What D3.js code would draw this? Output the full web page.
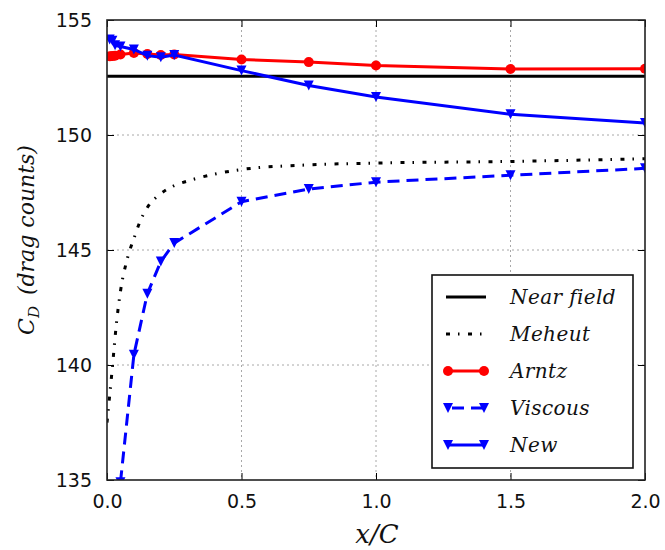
<!DOCTYPE html>
<html><head><meta charset="utf-8">
<script src="https://cdn.jsdelivr.net/npm/d3@7"></script>
<style>body{margin:0;background:#fff}svg{display:block}</style>
</head><body><svg id="c" width="665" height="550"></svg>
<script>
// ---- data ----
const xTicks = [0, 0.5, 1.0, 1.5, 2.0];
const xTickLabels = ["0.0", "0.5", "1.0", "1.5", "2.0"];
const yTicks = [135, 140, 145, 150, 155];
const yTickLabels = ["135", "140", "145", "150", "155"];

const nearFieldValue = 152.55;

const meheutX = [0.0, 0.02, 0.035, 0.05, 0.075, 0.1, 0.125, 0.15, 0.2, 0.25, 0.3, 0.4, 0.5, 0.75, 1.0, 1.5, 2.0];
const meheutY = [137.5, 139.9, 141.8, 143.2, 144.6, 145.5, 146.3, 146.85, 147.45, 147.8, 148.0, 148.3, 148.5, 148.7, 148.78, 148.85, 148.97];

const arntzX = [0.01, 0.02, 0.03, 0.05, 0.1, 0.15, 0.2, 0.25, 0.5, 0.75, 1.0, 1.5, 2.0];
const arntzY = [153.42, 153.43, 153.45, 153.5, 153.57, 153.52, 153.48, 153.5, 153.28, 153.17, 153.02, 152.87, 152.88];

const viscousX = [0.05, 0.1, 0.15, 0.2, 0.25, 0.5, 0.75, 1.0, 1.5, 2.0];
const viscousY = [134.9, 140.45, 143.1, 144.5, 145.3, 147.1, 147.65, 147.95, 148.25, 148.55];

const newX = [0.01, 0.02, 0.03, 0.05, 0.1, 0.15, 0.2, 0.25, 0.5, 0.75, 1.0, 1.5, 2.0];
const newY = [154.15, 154.1, 153.9, 153.85, 153.72, 153.45, 153.38, 153.48, 152.8, 152.15, 151.65, 150.9, 150.52];

const legendLabels = ["Near field", "Meheut", "Arntz", "Viscous", "New"];

// ---- layout ----
const L = 107, R = 645, T = 20, B = 480;
const svg = d3.select("#c");
const x = d3.scaleLinear().domain([0, 2]).range([L, R]);
const y = d3.scaleLinear().domain([135, 155]).range([B, T]);

svg.append("defs").append("clipPath").attr("id", "clip")
  .append("rect").attr("x", L).attr("y", T).attr("width", R - L).attr("height", B - T);

// grid
const grid = svg.append("g");
grid.selectAll("line.gx").data(xTicks.slice(1, -1)).join("line")
  .attr("x1", d => x(d)).attr("x2", d => x(d)).attr("y1", T).attr("y2", B)
  .attr("stroke", "#a8a8a8").attr("stroke-width", 1).attr("stroke-dasharray", "2,3");
grid.selectAll("line.gy").data(yTicks.slice(1, -1)).join("line")
  .attr("y1", d => y(d)).attr("y2", d => y(d)).attr("x1", L).attr("x2", R)
  .attr("stroke", "#a8a8a8").attr("stroke-width", 1).attr("stroke-dasharray", "2,3");

const plot = svg.append("g").attr("clip-path", "url(#clip)");
const line = d3.line().x(d => x(d[0])).y(d => y(d[1]));
const zip = (a, b) => a.map((v, i) => [v, b[i]]);
const tri = h => `M${-h},${-h}L${h},${-h}L0,${h}Z`;

// Near field
plot.append("line").attr("x1", L).attr("x2", R).attr("y1", y(nearFieldValue)).attr("y2", y(nearFieldValue))
  .attr("stroke", "#000").attr("stroke-width", 3);
// Meheut
plot.append("path").datum(zip(meheutX, meheutY)).attr("d", line.curve(d3.curveMonotoneX))
  .attr("fill", "none").attr("stroke", "#000").attr("stroke-width", 3).attr("stroke-dasharray", "4,8,1.5,8.5");
line.curve(d3.curveLinear);
// Arntz
plot.append("path").datum(zip(arntzX, arntzY)).attr("d", line)
  .attr("fill", "none").attr("stroke", "#ff0000").attr("stroke-width", 3);
plot.selectAll("circle.a").data(zip(arntzX, arntzY)).join("circle")
  .attr("cx", d => x(d[0])).attr("cy", d => y(d[1])).attr("r", 5).attr("fill", "#ff0000");
// Viscous
plot.append("path").datum(zip(viscousX, viscousY)).attr("d", line)
  .attr("fill", "none").attr("stroke", "#0000ff").attr("stroke-width", 3).attr("stroke-dasharray", "12,7");
plot.selectAll("path.v").data(zip(viscousX, viscousY)).join("path")
  .attr("transform", d => `translate(${x(d[0])},${y(d[1])})`).attr("d", tri(5)).attr("fill", "#0000ff");
// New
plot.append("path").datum(zip(newX, newY)).attr("d", line)
  .attr("fill", "none").attr("stroke", "#0000ff").attr("stroke-width", 3);
plot.selectAll("path.n").data(zip(newX, newY)).join("path")
  .attr("transform", d => `translate(${x(d[0])},${y(d[1])})`).attr("d", tri(5)).attr("fill", "#0000ff");

// axes (ticks inward, all four sides)
const tl = 7;
const ax = svg.append("g");
ax.append("g").attr("transform", `translate(0,${B})`)
  .call(d3.axisBottom(x).tickValues(xTicks).tickFormat((d, i) => xTickLabels[i]).tickSizeInner(-tl).tickSizeOuter(0).tickPadding(tl + 8));
ax.append("g").attr("transform", `translate(0,${T})`)
  .call(d3.axisTop(x).tickValues(xTicks).tickFormat("").tickSizeInner(-tl).tickSizeOuter(0));
ax.append("g").attr("transform", `translate(${L},0)`)
  .call(d3.axisLeft(y).tickValues(yTicks).tickFormat((d, i) => yTickLabels[i]).tickSizeInner(-tl).tickSizeOuter(0).tickPadding(tl + 8));
ax.append("g").attr("transform", `translate(${R},0)`)
  .call(d3.axisRight(y).tickValues(yTicks).tickFormat("").tickSizeInner(-tl).tickSizeOuter(0));
ax.selectAll(".domain").remove();
ax.selectAll(".tick line").attr("stroke", "#000").attr("stroke-width", 1);
ax.selectAll(".tick text").attr("font-family", "DejaVu Sans").attr("font-size", 19).attr("fill", "#111");

svg.append("rect").attr("x", L).attr("y", T).attr("width", R - L).attr("height", B - T)
  .attr("fill", "none").attr("stroke", "#222").attr("stroke-width", 1.6);

// legend
const lg = svg.append("g");
lg.append("rect").attr("x", 432).attr("y", 275).attr("width", 201).attr("height", 193)
  .attr("fill", "#fff").attr("stroke", "#111").attr("stroke-width", 1.6);
const ly = i => 297 + 37 * i;
const lx1 = 448, lx2 = 484, ltx = 510;
lg.append("line").attr("x1", lx1 - 2).attr("x2", lx2 + 2).attr("y1", ly(0)).attr("y2", ly(0)).attr("stroke", "#000").attr("stroke-width", 3);
lg.append("line").attr("x1", lx1 - 2).attr("x2", lx2 + 2).attr("y1", ly(1)).attr("y2", ly(1)).attr("stroke", "#000").attr("stroke-width", 3).attr("stroke-dasharray", "4,8,1.5,8.5");
lg.append("line").attr("x1", lx1).attr("x2", lx2).attr("y1", ly(2)).attr("y2", ly(2)).attr("stroke", "#ff0000").attr("stroke-width", 3);
[lx1, lx2].forEach(px => lg.append("circle").attr("cx", px).attr("cy", ly(2)).attr("r", 5).attr("fill", "#ff0000"));
lg.append("line").attr("x1", lx1).attr("x2", lx2).attr("y1", ly(3)).attr("y2", ly(3)).attr("stroke", "#0000ff").attr("stroke-width", 3).attr("stroke-dasharray", "12,7").attr("stroke-dashoffset", -4);
lg.append("line").attr("x1", lx1).attr("x2", lx2).attr("y1", ly(4)).attr("y2", ly(4)).attr("stroke", "#0000ff").attr("stroke-width", 3);
[3, 4].forEach(r => [lx1, lx2].forEach(px => lg.append("path").attr("transform", `translate(${px},${ly(r)})`).attr("d", tri(5)).attr("fill", "#0000ff")));
lg.selectAll("text").data(legendLabels).join("text")
  .attr("x", ltx).attr("y", (d, i) => ly(i) + 7)
  .attr("font-family", "DejaVu Serif").attr("font-style", "italic").attr("font-size", 20)
  .attr("letter-spacing", 0.4).attr("fill", "#111")
  .text(d => d);

// axis labels
svg.append("text").attr("x", 377).attr("y", 543).attr("text-anchor", "middle")
  .attr("font-family", "DejaVu Serif").attr("font-style", "italic").attr("font-size", 26).attr("fill", "#111").text("x/C");
const yl = svg.append("text").attr("transform", "translate(34,240) rotate(-90)").attr("text-anchor", "middle")
  .attr("font-family", "DejaVu Serif").attr("font-style", "italic").attr("font-size", 22).attr("fill", "#111");
yl.append("tspan").text("C");
yl.append("tspan").attr("dy", 5).attr("font-size", 15).text("D");
yl.append("tspan").attr("dy", -5).text("\u2002(drag counts)");
</script></body></html>
